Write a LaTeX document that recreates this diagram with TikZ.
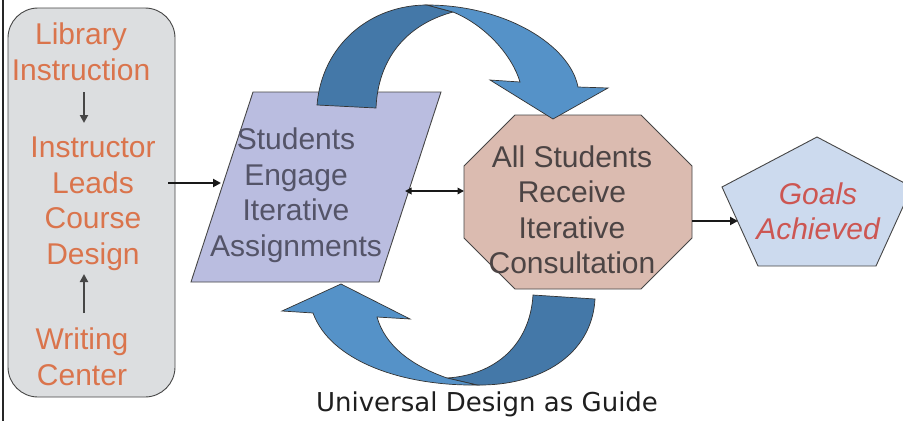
\documentclass[tikz,border=0pt]{standalone}
\usepackage{fontspec}
\setmainfont{Liberation Sans}
\newfontfamily\capfont{DejaVu Sans}
\usetikzlibrary{arrows.meta}
\definecolor{boxfill}{RGB}{220,222,224}
\definecolor{parafill}{RGB}{186,189,224}
\definecolor{octfill}{RGB}{219,187,176}
\definecolor{pentfill}{RGB}{204,218,238}
\definecolor{bluedark}{RGB}{68,120,168}
\definecolor{bluelight}{RGB}{85,146,200}
\definecolor{orangetxt}{RGB}{218,116,76}
\definecolor{redtxt}{RGB}{204,86,82}
\definecolor{paratxt}{RGB}{84,84,104}
\definecolor{octtxt}{RGB}{76,68,68}
\definecolor{edgegray}{RGB}{70,70,70}
\begin{document}
\begin{tikzpicture}[x=1pt,y=-1pt,
  shapeline/.style={draw=edgegray, line width=0.9pt},
  blueline/.style={draw=black!80, line width=0.7pt},
  linktext/.style={font=\fontsize{30}{35.5}\selectfont, align=center, inner sep=0pt},
  orangetext/.style={linktext, text=orangetxt},
  goalstext/.style={linktext, text=redtxt, font=\fontsize{30}{35}\selectfont\itshape},
  grayarrow/.style={draw=edgegray, line width=2.6pt, -{Triangle[length=8pt,width=8pt]}},
  blackarrow/.style={draw=black!90, line width=2.8pt, -{Triangle[length=8pt,width=8pt]}},
  dblarrow/.style={draw=black!90, line width=2.2pt, {Triangle[length=6.5pt,width=6.5pt]}-{Triangle[length=6.5pt,width=6.5pt]}}]
\useasboundingbox (0,0) rectangle (903,421);
\fill[white] (0,0) rectangle (903,421);
\clip (0,0) rectangle (903,421);
% left rule
\draw[line width=2pt, black!85] (3,0) -- (3,421);
% left box
\draw[shapeline, fill=boxfill, rounded corners=30pt] (8,8) rectangle (175,397);
\node[orangetext] (lib) at (81,52) {Library\\Instruction};
\node[orangetext] (instr) at (93,204) {Instructor\\Leads\\Course\\Design};
\node[orangetext] (writing) at (82,357) {Writing\\Center};
\coordinate (libS) at (84,92);
\coordinate (instrN) at (84,123);
\coordinate (writingN) at (84,313);
\coordinate (instrS) at (84,274);
\draw[grayarrow] (libS) -- (instrN);
\draw[grayarrow] (writingN) -- (instrS);
% parallelogram
\draw[shapeline, fill=parafill] (253,92) -- (441,92) -- (379,282) -- (191,282) -- cycle;
\node[linktext, text=paratxt] (students) at (296,195) {Students\\Engage\\Iterative\\Assignments};
% octagon
\draw[shapeline, fill=octfill] (515,115) -- (641,115) -- (692,166) -- (692,238) -- (641,289) -- (515,289) -- (464,238) -- (464,166) -- cycle;
\node[linktext, text=octtxt] (consult) at (572,210) {All Students\\Receive\\Iterative\\Consultation};
% pentagon
\draw[shapeline, fill=pentfill] (817,137) -- (912,187) -- (876,266) -- (758,266) -- (722,187) -- cycle;
\node[goalstext] (goals) at (818,211) {Goals\\Achieved};
% connectors
\coordinate (boxE) at (168,183);
\coordinate (paraW) at (221,183);
\coordinate (paraE) at (405,191);
\coordinate (octW) at (464,191);
\coordinate (octE) at (692,221);
\coordinate (pentW) at (738,221);
\draw[blackarrow] (boxE) -- (paraW);
\draw[dblarrow] (paraE) -- (octW);
\draw[blackarrow] (octE) -- (pentW);
% top curved arrow
\filldraw[blueline, fill=bluedark] (317,105) .. controls (322,45) and (370,5) .. (427,5) -- (453,12) .. controls (405,25) and (378,60) .. (376,108) -- cycle;
\filldraw[blueline, fill=bluelight] (427,5) .. controls (505,5) and (570,45) .. (578,87) -- (608,88) -- (553,119) -- (490,80) -- (520,82) .. controls (512,55) and (485,25) .. (453,12) -- cycle;
% bottom curved arrow
\filldraw[blueline, fill=bluedark] (595,299) .. controls (592,355) and (540,386) .. (477,385) -- (447,378) .. controls (495,375) and (530,345) .. (533,295) -- cycle;
\filldraw[blueline, fill=bluelight] (477,385) .. controls (400,386) and (330,360) .. (313,313) -- (282,311) -- (341,284) -- (410,319) -- (377,317) .. controls (385,345) and (410,365) .. (447,378) -- cycle;
% caption
\node[inner sep=0pt, text=black!88, font=\capfont\fontsize{26}{30}\selectfont] (caption) at (487,404) {Universal Design as Guide};
\end{tikzpicture}
\end{document}
